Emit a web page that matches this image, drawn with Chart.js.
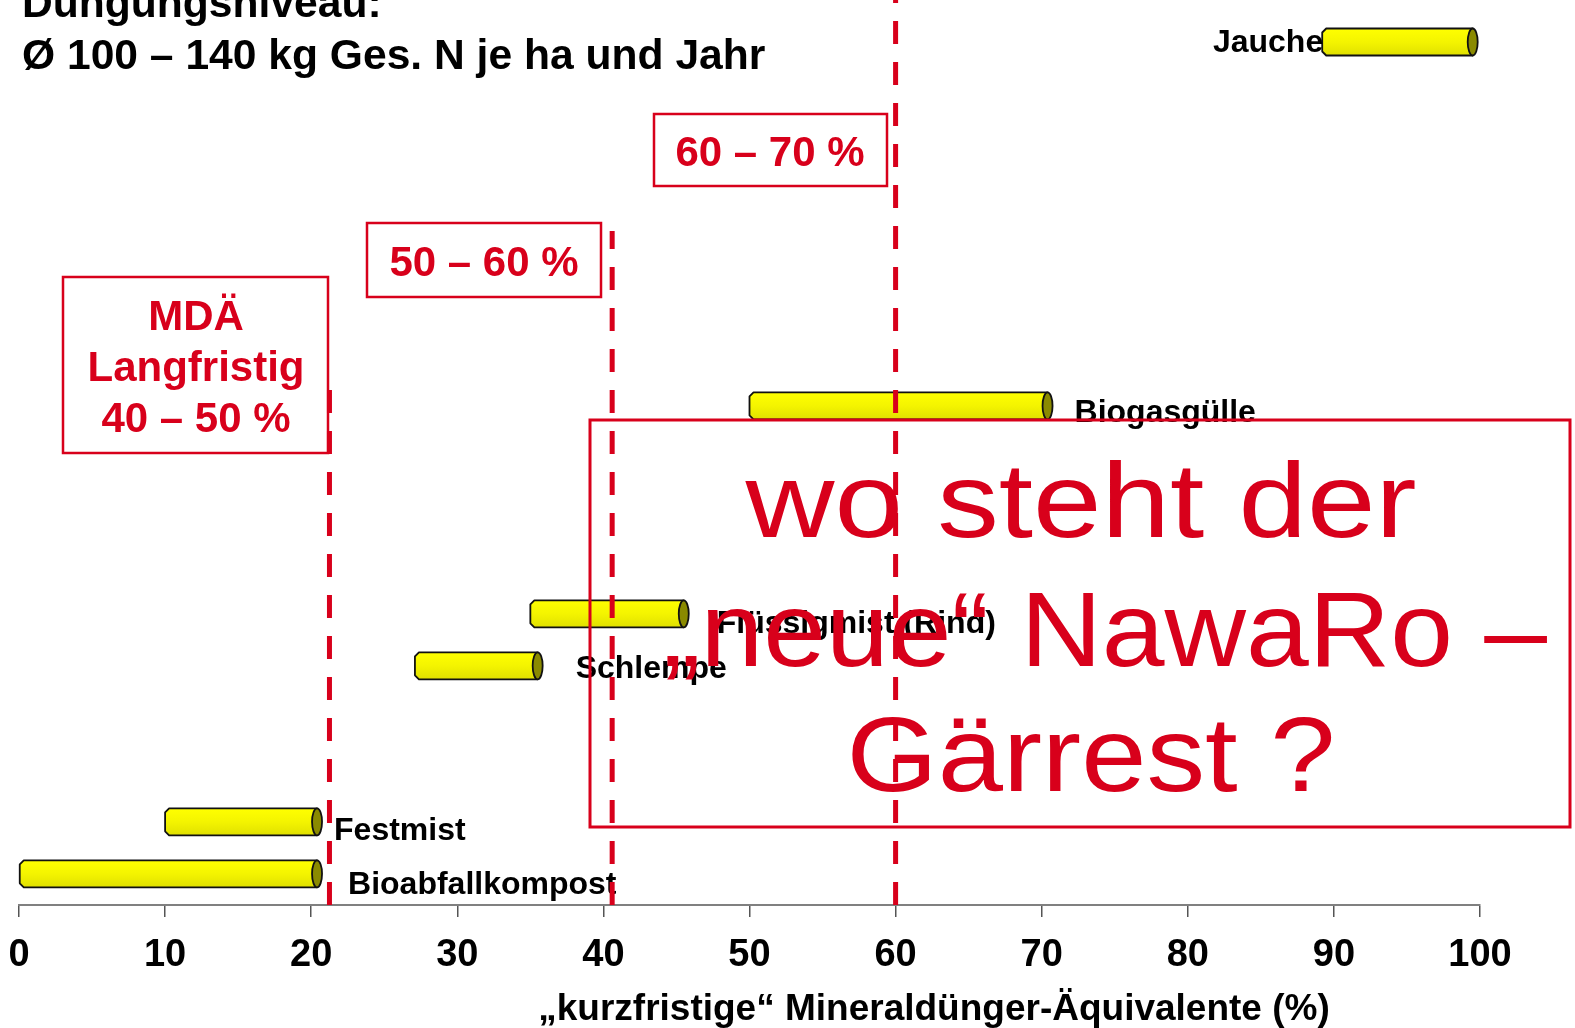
<!DOCTYPE html>
<html>
<head>
<meta charset="utf-8">
<script src="https://cdn.jsdelivr.net/npm/chart.js@4.4.1/dist/chart.umd.min.js"></script>
<style>
  html, body { margin: 0; padding: 0; background: #ffffff; }
  #wrap { width: 1575px; height: 1028px; position: relative; }
</style>
</head>
<body>
<div id="wrap"><canvas id="chart" width="1575" height="1028"></canvas></div>
<script>
// ---- data -------------------------------------------------------------
// one row per slot on the vertical axis; empty slots keep the spacing
const categories = [
  'Jauche', '', '', '', '', '', '', 'Biogasgülle', '', '', '',
  'Flüssigmist (Rind)', 'Schlempe', '', '', 'Festmist', 'Bioabfallkompost'
];
const rangeStart = [89.2, null, null, null, null, null, null, 50, null, null, null, 35, 27.1, null, null, 10, 0];
const rangeEnd   = [99.5, null, null, null, null, null, null, 70.4, null, null, null, 45.5, 35.5, null, null, 20.4, 20.4];

const xTickValues = [0, 10, 20, 30, 40, 50, 60, 70, 80, 90, 100];
const thresholds = [21.25, 40.6, 60];

const titleLines = ['Düngungsniveau:', 'Ø 100 – 140 kg Ges. N je ha und Jahr'];
const axisTitle = '„kurzfristige“ Mineraldünger-Äquivalente (%)';
const boxTexts = [['MDÄ', 'Langfristig', '40 – 50 %'], ['50 – 60 %'], ['60 – 70 %']];
const noteLines = ['wo steht der', '„neue“ NawaRo –', 'Gärrest ?'];

// ---- styling / layout -------------------------------------------------
const FONT = '"Liberation Sans", Arial, Helvetica, sans-serif';
const RED = '#d8001b';

// label placement relative to the bar (side, x gap from bar end, baseline shift)
const labelPlace = {
  'Jauche':             { side: 'left',  dx: 1,  dy: 10 },
  'Biogasgülle':        { side: 'right', dx: 27, dy: 16 },
  'Flüssigmist (Rind)': { side: 'right', dx: 33, dy: 19 },
  'Schlempe':           { side: 'right', dx: 38, dy: 12 },
  'Festmist':           { side: 'right', dx: 17, dy: 18 },
  'Bioabfallkompost':   { side: 'right', dx: 31, dy: 20 }
};
// top end of each dashed threshold line (px)
const thresholdTop = [382, 231, 0];

const boxes = [
  { x: 63, y: 277, w: 265, h: 176, cx: 196, baselines: [330, 381, 432] },
  { x: 367, y: 223, w: 234, h: 74,  cx: 484, baselines: [276] },
  { x: 654, y: 114, w: 233, h: 72,  cx: 770, baselines: [166] }
];
const noteBox = { x: 590, y: 420, w: 980, h: 407 };
const noteLayout = [
  { cx: 1081, base: 537, width: 671 },
  { cx: 1105, base: 666, width: 884 },
  { cx: 1091, base: 791, width: 489 }
];

// floating bars, positioned on a numeric slot axis
const barPoints = [];
rangeStart.forEach((s, i) => {
  if (s !== null) barPoints.push({ x: [s, rangeEnd[i]], y: i });
});

// cylinder-style bars: chamfered left end, darker elliptical cap on the right
function drawCylinder(ctx, el) {
  const p = el.getProps(['x', 'y', 'base', 'height'], true);
  const h = p.height, top = p.y - h / 2, bot = p.y + h / 2;
  const L = Math.min(p.base, p.x), R = Math.max(p.base, p.x);
  const ch = 4, rx = 5;
  const g = ctx.createLinearGradient(0, top, 0, bot);
  g.addColorStop(0, '#ffff00');
  g.addColorStop(0.5, '#f4f400');
  g.addColorStop(1, '#e0e000');
  ctx.save();
  ctx.lineWidth = 1.8;
  ctx.strokeStyle = '#111111';
  ctx.lineJoin = 'round';
  ctx.beginPath();
  ctx.moveTo(L, top + ch);
  ctx.lineTo(L + ch, top);
  ctx.lineTo(R, top);
  ctx.lineTo(R, bot);
  ctx.lineTo(L + ch, bot);
  ctx.lineTo(L, bot - ch);
  ctx.closePath();
  ctx.fillStyle = g;
  ctx.fill();
  ctx.stroke();
  ctx.beginPath();
  ctx.ellipse(R, p.y, rx, h / 2, 0, 0, Math.PI * 2);
  ctx.fillStyle = '#8a8a00';
  ctx.fill();
  ctx.stroke();
  ctx.restore();
}

const decorations = {
  id: 'decorations',
  afterDatasetsDraw(chart) {
    const ctx = chart.ctx;
    const meta = chart.getDatasetMeta(0);
    const xs = chart.scales.x;
    const area = chart.chartArea;

    // bars and their names
    meta.data.forEach((el, j) => {
      drawCylinder(ctx, el);
      const name = categories[barPoints[j].y];
      const pl = labelPlace[name];
      const p = el.getProps(['x', 'y', 'base'], true);
      ctx.save();
      ctx.font = 'bold 32px ' + FONT;
      ctx.fillStyle = '#000000';
      ctx.textBaseline = 'alphabetic';
      if (pl.side === 'left') {
        ctx.textAlign = 'right';
        ctx.fillText(name, Math.min(p.base, p.x) + pl.dx, p.y + pl.dy);
      } else {
        ctx.textAlign = 'left';
        ctx.fillText(name, Math.max(p.base, p.x) + pl.dx, p.y + pl.dy);
      }
      ctx.restore();
    });

    // dashed threshold lines
    ctx.save();
    ctx.strokeStyle = RED;
    ctx.lineWidth = 5;
    ctx.setLineDash([23, 18]);
    thresholds.forEach((v, i) => {
      const px = xs.getPixelForValue(v);
      ctx.beginPath();
      ctx.moveTo(px, area.bottom);
      ctx.lineTo(px, thresholdTop[i]);
      ctx.stroke();
    });
    ctx.restore();
  },
  afterDraw(chart) {
    const ctx = chart.ctx;

    // heading
    ctx.save();
    ctx.fillStyle = '#000000';
    ctx.font = 'bold 42.6px ' + FONT;
    ctx.textAlign = 'left';
    ctx.textBaseline = 'alphabetic';
    ctx.fillText(titleLines[0], 22, 17);
    ctx.fillText(titleLines[1], 22, 69);

    // axis title
    ctx.font = 'bold 37px ' + FONT;
    ctx.textAlign = 'center';
    ctx.fillText(axisTitle, 934, 1020);
    ctx.restore();

    // range boxes
    ctx.save();
    ctx.strokeStyle = RED;
    ctx.lineWidth = 2.5;
    ctx.fillStyle = RED;
    ctx.font = 'bold 42px ' + FONT;
    ctx.textAlign = 'center';
    ctx.textBaseline = 'alphabetic';
    boxes.forEach((b, i) => {
      ctx.strokeRect(b.x, b.y, b.w, b.h);
      boxTexts[i].forEach((t, j) => ctx.fillText(t, b.cx, b.baselines[j]));
    });
    ctx.restore();

    // question box
    ctx.save();
    ctx.strokeStyle = RED;
    ctx.lineWidth = 3;
    ctx.strokeRect(noteBox.x, noteBox.y, noteBox.w, noteBox.h);
    ctx.fillStyle = RED;
    ctx.font = '106px ' + FONT;
    ctx.textAlign = 'center';
    ctx.textBaseline = 'alphabetic';
    noteLines.forEach((t, i) => {
      const nl = noteLayout[i];
      const w = ctx.measureText(t).width;
      const sx = nl.width / w;
      ctx.save();
      ctx.translate(nl.cx, nl.base);
      ctx.scale(sx, 1);
      ctx.fillText(t, 0, 0);
      ctx.restore();
    });
    ctx.restore();
  }
};

new Chart(document.getElementById('chart'), {
  type: 'bar',
  data: {
    datasets: [{
      data: barPoints,
      backgroundColor: 'rgba(0,0,0,0)',
      borderWidth: 0,
      barThickness: 27
    }]
  },
  options: {
    indexAxis: 'y',
    responsive: false,
    devicePixelRatio: 1,
    animation: false,
    layout: { padding: { left: 19, right: 95, top: 16, bottom: 0 } },
    plugins: { legend: { display: false }, tooltip: { enabled: false }, title: { display: false } },
    scales: {
      y: { type: 'linear', display: false, reverse: true, offset: false, min: -0.5, max: 16.6 },
      x: {
        type: 'linear',
        min: 0,
        max: 100,
        position: 'bottom',
        afterBuildTicks: (scale) => { scale.ticks = xTickValues.map(v => ({ value: v })); },
        afterFit: (scale) => { scale.height = 123; scale.paddingLeft = 0; scale.paddingRight = 0; },
        border: { display: true, color: '#808080', width: 2 },
        grid: { display: true, drawOnChartArea: false, drawTicks: true, tickLength: 12, color: '#555555', lineWidth: 1.5 },
        ticks: {
          color: '#000000',
          font: { family: FONT, size: 38, weight: 'bold' },
          padding: 16,
          maxRotation: 0,
          autoSkip: false
        },
        title: { display: false }
      }
    }
  },
  plugins: [decorations]
});
</script>
</body>
</html>
